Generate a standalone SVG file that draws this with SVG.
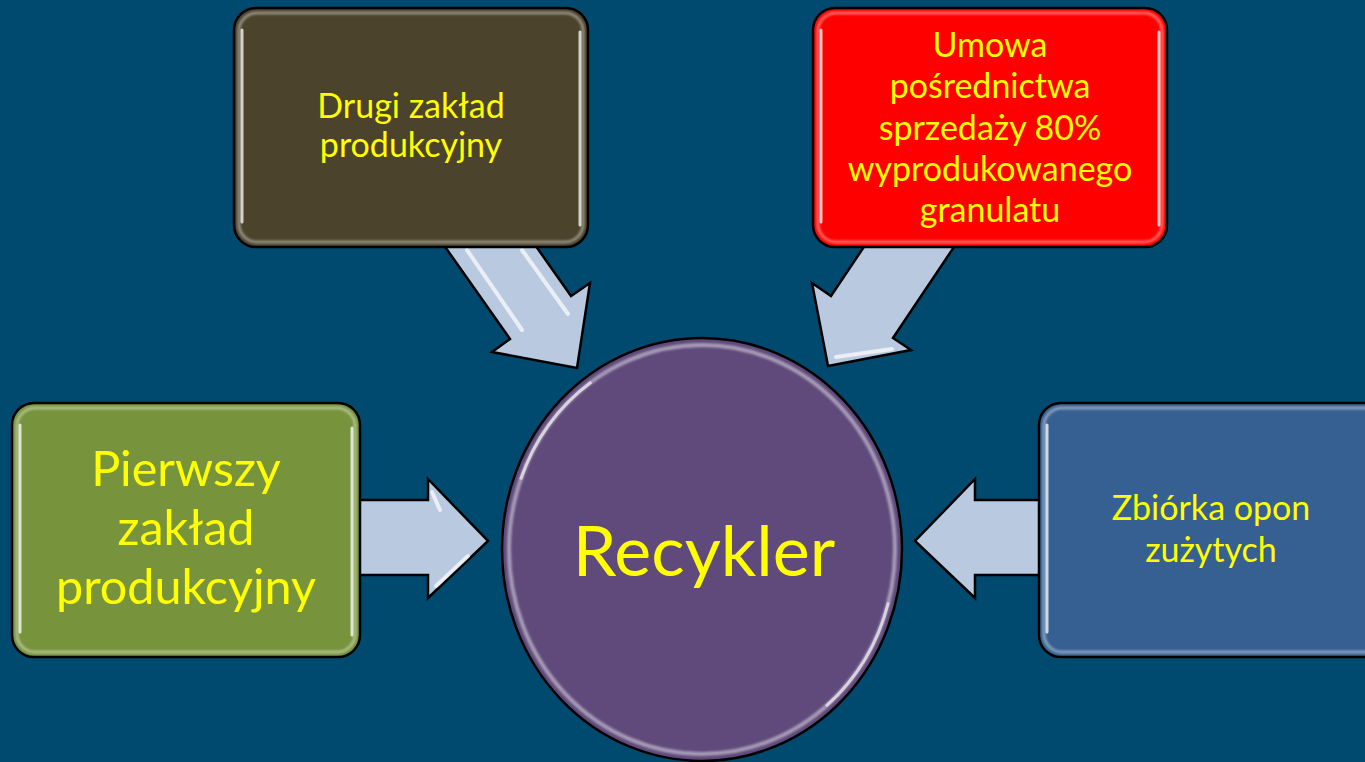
<svg xmlns="http://www.w3.org/2000/svg" width="1365" height="762" viewBox="0 0 1365 762">
<defs>
<style>
.bg{fill:#014A6F}
.box{stroke:#000;stroke-width:2.5}
.gloss{fill:none;stroke:#fff;stroke-opacity:0.4;stroke-width:3}
.edge{fill:none;stroke:#fff;stroke-opacity:0.75;stroke-width:3;stroke-linecap:round}
.arrow{fill:#B9C9E0;stroke:#000;stroke-width:2.5;stroke-linejoin:miter}
.hl{fill:none;stroke:#fff;stroke-opacity:0.7;stroke-width:4;stroke-linecap:round}
.t{font-family:Lato,"Liberation Sans",sans-serif;fill:#FFFF00;text-anchor:middle}
.s{font-size:34px}
.m{font-size:48.5px}
.l{font-size:70px}
</style>
<filter id="soft" x="-5%" y="-5%" width="110%" height="110%"><feGaussianBlur stdDeviation="1.2"/></filter>
</defs>
<rect class="bg" x="0" y="0" width="1365" height="762"/>

<g id="connectors">
<polygon class="arrow" points="350,500 428,500 428,479 488,541 428,598 428,575 350,575"/>
<polyline class="hl" points="432,492 440,510" stroke-opacity="0.6"/>
<polyline class="hl" points="436,586 468,556" stroke-opacity="0.6"/>
<polygon class="arrow" points="1052,500 975,500 975,479 915,541 975,598 975,575 1052,575"/>
<polygon class="arrow" points="441,241 510,339 492,352 577,368 590,283 571,296 502,198"/>
<line class="hl" x1="467" y1="250" x2="522" y2="330"/>
<line class="hl" x1="522" y1="250" x2="568" y2="314"/>
<polygon class="arrow" points="960,238 893,338 911,350 828,366 812,283 831,296 898,196"/>
<polyline class="hl" points="836,357 892,349" stroke-width="5"/>
</g>

<g id="node-drugi">
<rect class="box" x="234" y="8" width="354" height="239" rx="22" fill="#4B432C"/>
<rect class="gloss" x="239" y="13" width="344" height="229" rx="18" filter="url(#soft)"/>
<line class="edge" x1="242" y1="30" x2="242" y2="222"/>
<line class="edge" x1="580" y1="32" x2="580" y2="225"/>
<text class="t s" x="411" y="118">Drugi zakład</text>
<text class="t s" x="411" y="157">produkcyjny</text>
</g>

<g id="node-umowa">
<rect class="box" x="813" y="8" width="354" height="239" rx="22" fill="#FF0000"/>
<rect class="gloss" x="818" y="13" width="344" height="229" rx="18" filter="url(#soft)"/>
<line class="edge" x1="821" y1="30" x2="821" y2="222"/>
<line class="edge" x1="1159" y1="32" x2="1159" y2="225"/>
<text class="t s" x="990" y="57">Umowa</text>
<text class="t s" x="990" y="98">pośrednictwa</text>
<text class="t s" x="990" y="140">sprzedaży 80%</text>
<text class="t s" x="990" y="181">wyprodukowanego</text>
<text class="t s" x="990" y="222">granulatu</text>
</g>

<g id="node-pierwszy">
<rect class="box" x="12" y="403" width="348" height="254" rx="22" fill="#77933C"/>
<rect class="gloss" x="17" y="408" width="338" height="244" rx="18" filter="url(#soft)"/>
<line class="edge" x1="20" y1="425" x2="20" y2="632"/>
<line class="edge" x1="352" y1="428" x2="352" y2="635"/>
<text class="t m" x="186" y="486">Pierwszy</text>
<text class="t m" x="186" y="545">zakład</text>
<text class="t m" x="186" y="604">produkcyjny</text>
</g>

<g id="node-zbiorka">
<rect class="box" x="1039" y="403" width="350" height="254" rx="22" fill="#376092"/>
<rect class="gloss" x="1044" y="408" width="340" height="244" rx="18" filter="url(#soft)"/>
<line class="edge" x1="1047" y1="425" x2="1047" y2="632"/>
<text class="t s" x="1211" y="520">Zbiórka opon</text>
<text class="t s" x="1211" y="562">zużytych</text>
</g>

<g id="node-recykler">
<ellipse cx="702" cy="549.5" rx="200" ry="211.5" fill="#604A7B" stroke="#000" stroke-width="2.5"/>
<ellipse cx="702" cy="549.5" rx="193" ry="204.5" fill="none" stroke="#fff" stroke-opacity="0.45" stroke-width="4" filter="url(#soft)"/>
<path d="M 520.6 479.6 A 193 204.5 0 0 1 591.3 382" fill="none" stroke="#fff" stroke-opacity="0.6" stroke-width="3"/>
<path d="M 888.4 602.4 A 193 204.5 0 0 1 826 706.2" fill="none" stroke="#fff" stroke-opacity="0.6" stroke-width="3"/>
<text class="t l" x="704" y="576">Recykler</text>
</g>
</svg>
